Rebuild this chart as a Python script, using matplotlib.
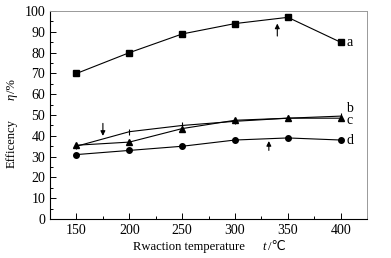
import matplotlib
matplotlib.use('Agg')
import matplotlib.pyplot as plt
from matplotlib.ticker import MultipleLocator

plt.rcParams['font.family'] = ['Liberation Serif', 'DejaVu Sans']

temps = [150, 200, 250, 300, 350, 400]
eff_a = [70, 80, 89, 94, 97, 85]
eff_b = [35, 42, 45, 47, 48.5, 49.5]
eff_c = [35.5, 37, 43.5, 47.5, 48.5, 48.5]
eff_d = [31, 33, 35, 38, 39, 38]
labels = ['a', 'b', 'c', 'd']

W, H = 391, 258


def main():
    fig = plt.figure(figsize=(W / 100, H / 100), dpi=100)
    ax = fig.add_axes([0.128, 0.151, 0.811, 0.806])

    kw = dict(color='black', lw=0.8)
    ax.plot(temps, eff_a, marker='s', ms=4, **kw)
    ax.plot(temps, eff_b, marker='|', ms=4, mew=0.8, **kw)
    ax.plot(temps, eff_c, marker='^', ms=4, **kw)
    ax.plot(temps, eff_d, marker='o', ms=4, **kw)

    # curve labels
    ax.text(405, eff_a[-1], labels[0], fontsize=10, va='center')
    ax.text(405, 53, labels[1], fontsize=10, va='center')
    ax.text(405, 47.5, labels[2], fontsize=10, va='center')
    ax.text(405, eff_d[-1], labels[3], fontsize=10, va='center')

    # arrows
    arr = dict(arrowstyle='-|>', color='black', lw=0.8, mutation_scale=7,
               shrinkA=0, shrinkB=0)
    ax.annotate('', xy=(340, 94), xytext=(340, 88), arrowprops=arr)
    ax.annotate('', xy=(175, 40), xytext=(175, 46), arrowprops=arr)
    ax.annotate('', xy=(332, 37.5), xytext=(332, 33), arrowprops=arr)

    ax.set_xlim(125, 425)
    ax.set_ylim(0, 100)
    ax.xaxis.set_major_locator(MultipleLocator(50))
    ax.xaxis.set_minor_locator(MultipleLocator(25))
    ax.yaxis.set_major_locator(MultipleLocator(10))
    ax.yaxis.set_minor_locator(MultipleLocator(5))
    ax.tick_params(which='both', direction='in', top=False, right=False, labelsize=10)
    ax.tick_params(which='major', length=4, width=0.7)
    ax.tick_params(which='minor', length=2, width=0.7)
    for s in ['top', 'right']:
        ax.spines[s].set_color('#999999')
        ax.spines[s].set_linewidth(0.7)
    for s in ['left', 'bottom']:
        ax.spines[s].set_linewidth(0.8)

    # axis titles, pieces so the symbols can be italic
    fs = 9.1
    fig.text(133 / W, 1 - 247 / H, 'Rwaction temperature', fontsize=fs, ha='left', va='center')
    fig.text(262 / W, 1 - 247 / H, 't', fontsize=fs, style='italic', ha='left', va='center')
    fig.text(268 / W, 1 - 247 / H, '/\u2103', fontsize=fs, ha='left', va='center')
    fig.text(12 / W, 1 - 143 / H, 'Efficency', fontsize=fs, rotation=90, ha='center', va='center')
    fig.text(12 / W, 1 - 97 / H, '\u03b7', fontsize=fs, style='italic', rotation=90,
             ha='center', va='center')
    fig.text(12 / W, 1 - 86 / H, '/%', fontsize=fs, rotation=90, ha='center', va='center')

    fig.savefig('out.png', dpi=100)


if __name__ == '__main__':
    main()
